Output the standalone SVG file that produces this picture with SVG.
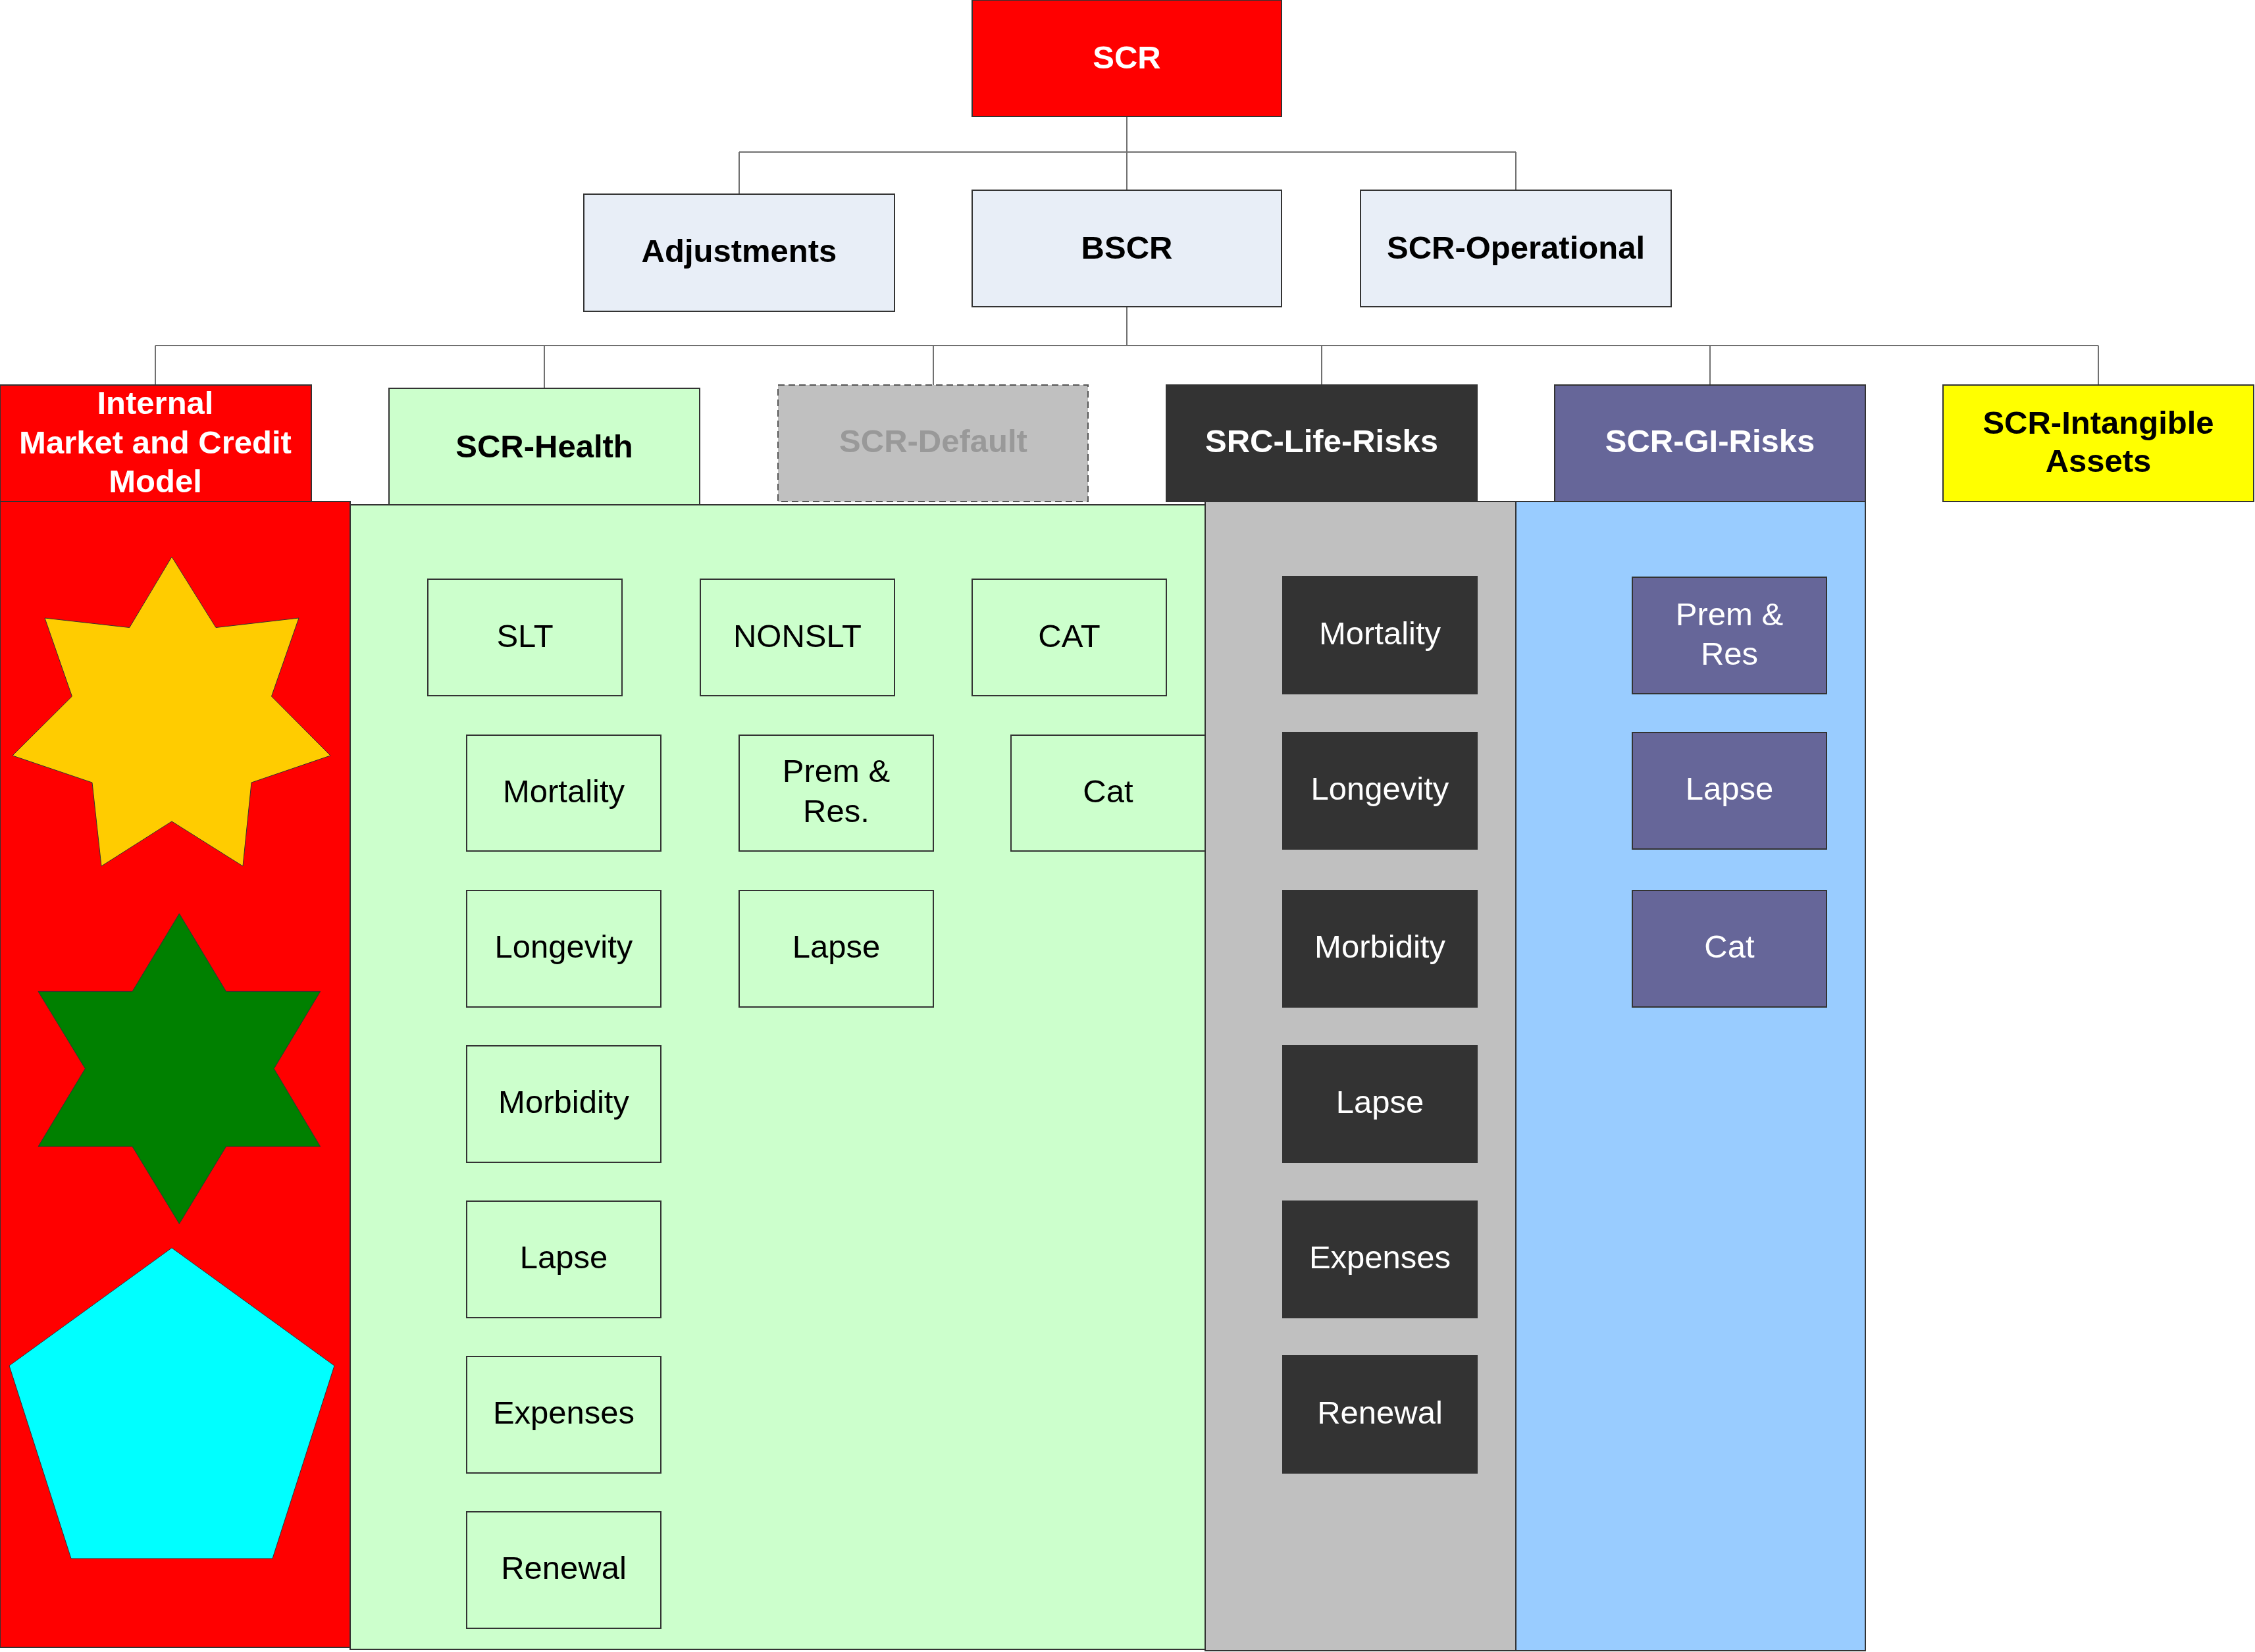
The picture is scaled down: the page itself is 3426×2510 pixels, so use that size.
<svg xmlns="http://www.w3.org/2000/svg" width="3426" height="2510" viewBox="0 0 3426 2510">
<style>
.b{stroke:#333;stroke-width:2}
.t{font-family:"Liberation Sans",Arial,sans-serif;font-size:49px;text-anchor:middle}
.bd{font-weight:bold}
.w{fill:#fff}
.k{fill:#000}
.c{fill:none;stroke:#707070;stroke-width:2}
.hb{fill:#CCFFCC}
.lb{fill:#333333}
.gb{fill:#666699}
.top{fill:#E8EEF7}
</style>
<rect width="3426" height="2510" fill="#fff"/>
<g id="connectors">
<path class="c" d="M1712,177 V231 M1123,231 H2303 M1123,231 V295 M1712,231 V289 M2303,231 V289"/>
<path class="c" d="M1712,466 V525 M236,525 H3188 M236,525 V585 M827,525 V590 M1418,525 V585 M2008,525 V585 M2598,525 V585 M3188,525 V585"/>
</g>
<g id="panel-internal">
<rect class="b" x="0" y="762" width="532" height="1741" fill="#FF0000"/>
<polygon stroke="#333" stroke-width="1" fill="#FFCC00" points="261,846 328,953.5 454,939 412.5,1058 502,1148 382,1189 369,1316 261,1248 154,1316 140,1189 19,1148 109.4,1058 68,939 196.7,953.5"/>
<polygon stroke="#333" stroke-width="1" fill="#008000" points="272.4,1388 343.6,1506.4 486.7,1506.4 416.3,1623.7 486.7,1742 343.6,1742 272.4,1859.4 201,1742 58,1742 129.3,1623.7 58,1506.4 201,1506.4"/>
<polygon stroke="#333" stroke-width="1" fill="#00FFFF" points="261,1896 508,2075 414,2368 108,2368 14,2075"/>
</g>
<g id="panel-health">
<rect class="b hb" x="532" y="767" width="1299" height="1739"/>
</g>
<g id="panel-life">
<rect class="b" x="1831" y="762" width="472" height="1746" fill="#C0C0C0"/>
</g>
<g id="panel-gi">
<rect class="b" x="2303" y="762" width="531" height="1746" fill="#99CCFF"/>
</g>
<g id="scr">
<rect class="b" x="1477" y="0" width="470" height="177" fill="#FF0000"/>
<text class="t bd w" x="1712" y="104">SCR</text>
</g>
<g id="adjustments">
<rect class="b top" x="887" y="295" width="472" height="178"/>
<text class="t bd k" x="1123" y="398">Adjustments</text>
</g>
<g id="bscr">
<rect class="b top" x="1477" y="289" width="470" height="177"/>
<text class="t bd k" x="1712" y="393">BSCR</text>
</g>
<g id="scr-operational">
<rect class="b top" x="2067" y="289" width="472" height="177"/>
<text class="t bd k" x="2303" y="393">SCR-Operational</text>
</g>
<g id="internal">
<rect class="b" x="0" y="585" width="473" height="177" fill="#FF0000"/>
<text class="t bd w" x="236" y="629">Internal</text>
<text class="t bd w" x="236" y="688.5">Market and Credit</text>
<text class="t bd w" x="236" y="748">Model</text>
</g>
<g id="scr-health">
<rect class="b hb" x="591" y="590" width="472" height="177"/>
<text class="t bd k" x="827" y="695">SCR-Health</text>
</g>
<g id="scr-default">
<rect x="1182" y="585" width="471" height="177" fill="#C0C0C0" stroke="#555" stroke-width="2" stroke-dasharray="10,6"/>
<text class="t bd" fill="#999999" x="1418" y="687">SCR-Default</text>
</g>
<g id="src-life-risks">
<rect class="b lb" x="1772" y="585" width="472" height="177"/>
<text class="t bd w" x="2008" y="687">SRC-Life-Risks</text>
</g>
<g id="scr-gi-risks">
<rect class="b gb" x="2362" y="585" width="472" height="177"/>
<text class="t bd w" x="2598" y="687">SCR-GI-Risks</text>
</g>
<g id="scr-intangible">
<rect class="b" x="2952" y="585" width="472" height="177" fill="#FFFF00"/>
<text class="t bd k" x="3188" y="659">SCR-Intangible</text>
<text class="t bd k" x="3188" y="717">Assets</text>
</g>
<g id="h-slt"><rect class="b hb" x="650" y="880" width="295" height="177"/><text class="t k" x="797.5" y="983">SLT</text></g>
<g id="h-nonslt"><rect class="b hb" x="1064" y="880" width="295" height="177"/><text class="t k" x="1211.5" y="983">NONSLT</text></g>
<g id="h-cat-group"><rect class="b hb" x="1477" y="880" width="295" height="177"/><text class="t k" x="1624.5" y="983">CAT</text></g>
<g id="h-mortality"><rect class="b hb" x="709" y="1117" width="295" height="176"/><text class="t k" x="856.5" y="1219">Mortality</text></g>
<g id="h-premres"><rect class="b hb" x="1123" y="1117" width="295" height="176"/><text class="t k" x="1270.5" y="1188">Prem &amp;</text><text class="t k" x="1270.5" y="1249">Res.</text></g>
<g id="h-cat"><rect class="b hb" x="1536" y="1117" width="295" height="176"/><text class="t k" x="1683.5" y="1219">Cat</text></g>
<g id="h-longevity"><rect class="b hb" x="709" y="1353" width="295" height="177"/><text class="t k" x="856.5" y="1455">Longevity</text></g>
<g id="h-lapse-nonslt"><rect class="b hb" x="1123" y="1353" width="295" height="177"/><text class="t k" x="1270.5" y="1455">Lapse</text></g>
<g id="h-morbidity"><rect class="b hb" x="709" y="1589" width="295" height="177"/><text class="t k" x="856.5" y="1691">Morbidity</text></g>
<g id="h-lapse"><rect class="b hb" x="709" y="1825" width="295" height="177"/><text class="t k" x="856.5" y="1927">Lapse</text></g>
<g id="h-expenses"><rect class="b hb" x="709" y="2061" width="295" height="177"/><text class="t k" x="856.5" y="2163">Expenses</text></g>
<g id="h-renewal"><rect class="b hb" x="709" y="2297" width="295" height="177"/><text class="t k" x="856.5" y="2399">Renewal</text></g>
<g id="l-mortality"><rect class="b lb" x="1949" y="876" width="295" height="178"/><text class="t w" x="2096.5" y="979">Mortality</text></g>
<g id="l-longevity"><rect class="b lb" x="1949" y="1113" width="295" height="177"/><text class="t w" x="2096.5" y="1215">Longevity</text></g>
<g id="l-morbidity"><rect class="b lb" x="1949" y="1353" width="295" height="177"/><text class="t w" x="2096.5" y="1455">Morbidity</text></g>
<g id="l-lapse"><rect class="b lb" x="1949" y="1589" width="295" height="177"/><text class="t w" x="2096.5" y="1691">Lapse</text></g>
<g id="l-expenses"><rect class="b lb" x="1949" y="1825" width="295" height="177"/><text class="t w" x="2096.5" y="1927">Expenses</text></g>
<g id="l-renewal"><rect class="b lb" x="1949" y="2060" width="295" height="178"/><text class="t w" x="2096.5" y="2163">Renewal</text></g>
<g id="g-premres"><rect class="b gb" x="2480" y="877" width="295" height="177"/><text class="t w" x="2627.5" y="950">Prem &amp;</text><text class="t w" x="2627.5" y="1010">Res</text></g>
<g id="g-lapse"><rect class="b gb" x="2480" y="1113" width="295" height="177"/><text class="t w" x="2627.5" y="1215">Lapse</text></g>
<g id="g-cat"><rect class="b gb" x="2480" y="1353" width="295" height="177"/><text class="t w" x="2627.5" y="1455">Cat</text></g>
</svg>
